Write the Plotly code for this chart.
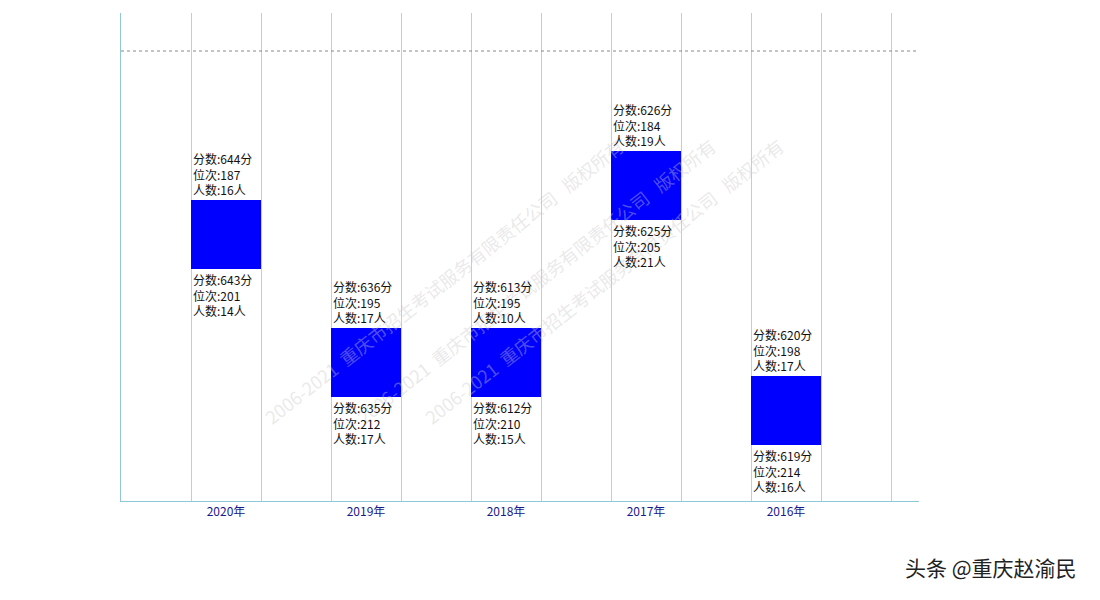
import plotly.graph_objects as go

years = ["2020年", "2019年", "2018年", "2017年", "2016年"]
box_top = [60.2, 34.6, 34.6, 70.0, 25.0]
box_bottom = [46.4, 20.8, 20.8, 56.2, 11.2]
hi_score = [644, 636, 613, 626, 620]
hi_rank = [187, 195, 195, 184, 198]
hi_count = [16, 17, 10, 19, 17]
lo_score = [643, 635, 612, 625, 619]
lo_rank = [201, 212, 210, 205, 214]
lo_count = [14, 17, 15, 21, 16]

xs = list(range(len(years)))
F = "Noto Sans CJK SC"
fig = go.Figure()
fig.add_trace(go.Bar(x=xs, y=[t - b for t, b in zip(box_top, box_bottom)], base=box_bottom,
                     width=0.5, marker=dict(color="#0000ff", line=dict(width=0)), hoverinfo="skip"))

ann = []
for wx, wy in [(0.17, 0.45), (0.52, 0.45), (0.84, 0.45)]:
    ann.append(dict(xref="paper", yref="paper", x=wx, y=wy, text="2006-2021  重庆市招生考试服务有限责任公司   版权所有",
                    showarrow=False, textangle=-38, font=dict(family=F, size=18, color="rgba(200,200,200,0.4)")))
for i in xs:
    ann.append(dict(x=i - 0.25, y=box_top[i], xanchor="left", yanchor="bottom", showarrow=False, align="left",
                    text=f"分数:{hi_score[i]}分<br>位次:{hi_rank[i]}<br>人数:{hi_count[i]}人",
                    font=dict(family=F, size=12, color="#111")))
    ann.append(dict(x=i - 0.25, y=box_bottom[i], xanchor="left", yanchor="top", showarrow=False, align="left",
                    text=f"分数:{lo_score[i]}分<br>位次:{lo_rank[i]}<br>人数:{lo_count[i]}人",
                    font=dict(family=F, size=12, color="#111")))
ann.append(dict(xref="paper", yref="paper", x=1.2, y=-0.17, xanchor="right", showarrow=False,
                text="头条 @重庆赵渝民", font=dict(family=F, size=21, color="#222")))

fig.update_layout(
    width=1100, height=600, paper_bgcolor="white", plot_bgcolor="white", showlegend=False,
    margin=dict(l=113, r=189, t=5, b=107),
    xaxis=dict(range=[-0.75, 4.95], tickvals=xs, ticktext=years, showgrid=False, zeroline=False,
               showline=True, linecolor="#8fc9d9", ticks="", tickfont=dict(family=F, size=12, color="#1a1a8c"),
               minor=dict(tickvals=[-0.25 + 0.5 * k for k in range(11)], showgrid=True, gridcolor="#a8d8e4", gridwidth=1)),
    yaxis=dict(range=[0, 97.6], showgrid=False, zeroline=False, showticklabels=False,
               showline=True, linecolor="#8fc9d9", ticks=""),
    shapes=[dict(type="line", xref="paper", x0=0, x1=1, y0=90, y1=90, line=dict(color="#888", width=1, dash="dot"))],
    annotations=ann,
)
fig.write_html("out.html")
